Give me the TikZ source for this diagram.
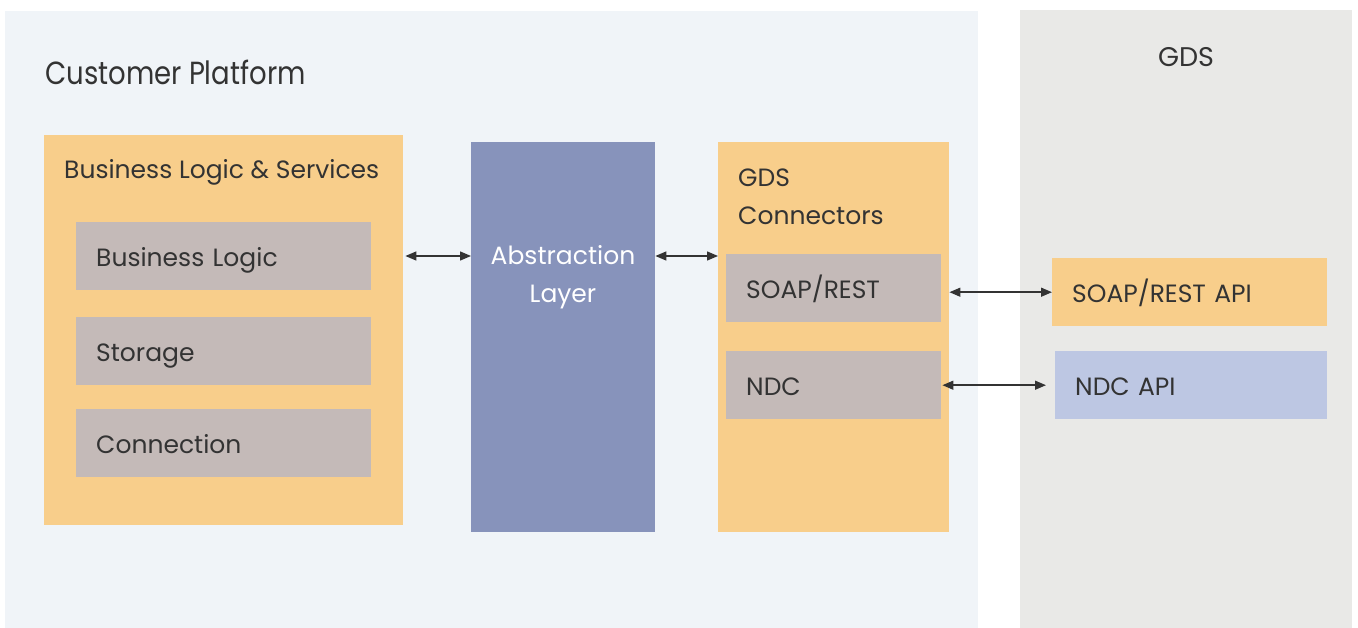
\documentclass[tikz,border=0pt]{standalone}
\usepackage{fontspec}
\setmainfont{Poppins}
\newfontfamily\titlefont[FakeStretch=0.86]{Poppins}
\usetikzlibrary{arrows.meta}
\definecolor{platformbg}{RGB}{240, 244, 248}
\definecolor{gdsbg}{RGB}{233, 233, 231}
\definecolor{orangebox}{RGB}{248, 206, 139}
\definecolor{greybox}{RGB}{196, 186, 184}
\definecolor{absbox}{RGB}{135, 147, 187}
\definecolor{ndcbox}{RGB}{189, 199, 227}
\definecolor{inkgrey}{RGB}{51, 51, 51}
\tikzset{
	boxtext/.style={font=\fontsize{25}{38}\selectfont, text=inkgrey},
	panel/.style={anchor=north west, inner sep=0pt, minimum height=390pt},
	item/.style={boxtext, anchor=north west, inner xsep=20pt, inner ysep=0pt,
		minimum height=68pt, text height=20pt, text depth=0pt, align=left},
	conn/.style={<->, >={Triangle[length=11pt,width=9pt]}, line width=1.4pt, draw=inkgrey}
}

\begin{document}
\begin{tikzpicture}[x=1pt, y=-1pt]
	\useasboundingbox (0, 0) rectangle (1358, 628);

	% backgrounds
	\fill[platformbg] (5, 11) rectangle (978, 628);
	\fill[gdsbg] (1020, 10) rectangle (1352, 628);
	\node[boxtext, font=\titlefont\fontsize{32}{38}\selectfont, anchor=base west, inner sep=0pt] (cptitle) at (45, 85) {Customer Platform};
	\node[boxtext, font=\fontsize{27}{38}\selectfont, anchor=base, inner sep=0pt] (gdstitle) at (1186, 67) {GDS};

	% business logic & services
	\node[panel, fill=orangebox, minimum width=359pt] (bls) at (44, 135) {};
	\node[boxtext, anchor=base west, inner sep=0pt] (blstitle) at (64, 179) {Business Logic \& Services};
	\foreach \y/\name/\txt in {
		222/bl/Business Logic,
		317/st/Storage,
		409/cn/Connection
	}{
		\node[item, fill=greybox, text width=255pt] (\name) at (76, \y) {\txt};
	}

	% abstraction layer
	\node[panel, fill=absbox, minimum width=184pt] (abs) at (471, 142) {};
	\node[boxtext, text=white, align=center, anchor=north, inner sep=0pt] (abstitle) at (563, 245) {Abstraction\\Layer};

	% gds connectors
	\node[panel, fill=orangebox, minimum width=231pt] (gdsc) at (718, 142) {};
	\node[boxtext, align=left, anchor=north west, inner sep=0pt] (gdsctitle) at (738, 169) {GDS\\Connectors};
	\node[item, fill=greybox, text width=175pt] (soap) at (726, 254) {SOAP/REST};
	\node[item, fill=greybox, text width=175pt] (ndc) at (726, 351) {NDC};

	% gds side
	\node[item, fill=orangebox, text width=235pt] (soapapi) at (1052, 258) {SOAP/REST API};
	\node[item, fill=ndcbox, text width=232pt] (ndcapi) at (1055, 351) {NDC API};

	% connectors
	\draw[conn, shorten <=2pt] (bls.east |- 0, 256) -- (abs.west |- 0, 256);
	\draw[conn] (abs.east |- 0, 256) -- (gdsc.west |- 0, 256);
	\draw[conn] (gdsc.east |- soapapi.west) -- (soapapi.west);
	\draw[conn, shorten <=1pt, shorten >=9pt] (ndc.east) -- (ndcapi.west);
\end{tikzpicture}
\end{document}
